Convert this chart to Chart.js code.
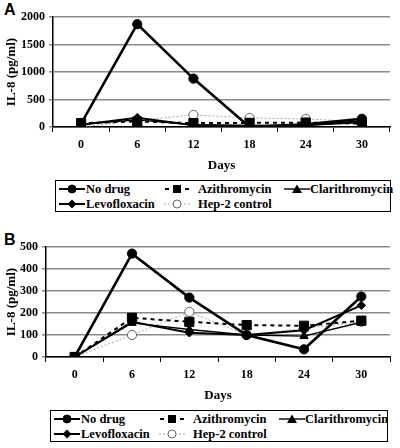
<!DOCTYPE html>
<html><head><meta charset="utf-8">
<script src="https://cdn.jsdelivr.net/npm/chart.js@4.4.1/dist/chart.umd.min.js"></script>
<style>
body{margin:0;background:#fff;width:400px;height:448px;position:relative;overflow:hidden}
.panel{position:absolute;left:4px;font-family:"Liberation Sans",Arial,sans-serif;font-weight:bold;font-size:16px;color:#000}
canvas{position:absolute;left:0}
.legend{position:absolute;border:1px solid #000;box-sizing:border-box;height:32px;background:#fff}
.item{position:absolute;height:14px;font-family:"Liberation Serif","Times New Roman",Times,serif;font-weight:bold;font-size:12.5px;color:#000;white-space:nowrap;line-height:14px}
.item svg{position:absolute;top:1px}
.item span{position:absolute;top:0}
</style></head>
<body>
<div class="panel" style="top:1px">A</div>
<canvas id="ca" width="400" height="175" style="top:0"></canvas>
<div class="legend" id="la" style="left:55px;top:180px;width:336px"></div>
<div class="panel" style="top:231px">B</div>
<canvas id="cb" width="400" height="175" style="top:230px"></canvas>
<div class="legend" id="lb" style="left:50px;top:410px;width:338px"></div>
<script>
// ---- data ----
const days = ['0', '6', '12', '18', '24', '30'];
const seriesNames = ['No drug', 'Azithromycin', 'Clarithromycin', 'Levofloxacin', 'Hep-2 control'];

const aNoDrug = [60, 1870, 880, 0, 50, 150];
const aAzi    = [70, 100, 70, 75, 80, 60];
const aClari  = [50, 130, 40, 30, 30, 80];
const aLevo   = [40, 170, 30, 20, 30, 110];
const aHep    = [0, 120, 220, 165, 145, 100];
const aTicks  = [0, 500, 1000, 1500, 2000];

const bNoDrug = [0, 470, 270, 100, 35, 275];
const bAzi    = [0, 178, 160, 145, 142, 165];
const bClari  = [0, 155, 125, 100, 95, 158];
const bLevo   = [0, 160, 110, 100, 122, 235];
const bHep    = [0, 100, 205, 100, 130, 160];
const bTicks  = [0, 100, 200, 300, 400, 500];

// ---- styles ----
const styles = [
  {color:'#000', width:2.6, dash:[], point:'circle', r:4.6, fill:'#000'},
  {color:'#000', width:2, dash:[4,4], point:'rect', r:6.5, fill:'#000'},
  {color:'#000', width:1.4, dash:[], point:'triangle', r:4.8, fill:'#000'},
  {color:'#000', width:2, dash:[], point:'rectRot', r:4.2, fill:'#000'},
  {color:'#a8a8a8', width:1, dash:[2,2], point:'circle', r:4.6, fill:'#fff', border:'#666'}
];

const serif = "'Liberation Serif', 'Times New Roman', Times, serif";

function makeChart(id, series, ticks, yMax, axisW) {
  const datasets = series.map((d, i) => {
    const s = styles[i];
    return {
      label: seriesNames[i], data: d,
      borderColor: s.color, borderWidth: s.width, borderDash: s.dash,
      pointStyle: s.point, pointRadius: s.r, pointHoverRadius: s.r,
      pointBackgroundColor: s.fill, pointBorderColor: s.border || s.color,
      pointBorderWidth: 1, tension: 0, fill: false
    };
  });
  return new Chart(document.getElementById(id), {
    type: 'line',
    data: {labels: days, datasets},
    options: {
      responsive: false, animation: false,
      layout: {padding: {left: 0, right: 10, top: 17, bottom: 0}},
      plugins: {legend: {display: false}, tooltip: {enabled: false}},
      scales: {
        x: {
          offset: true,
          grid: {offset: true, drawOnChartArea: false, drawTicks: true, tickLength: 5, color: '#000', lineWidth: 1},
          border: {display: true, color: '#000', width: 1.5},
          ticks: {color: '#000', font: {family: serif, size: 12, weight: 'bold'}, padding: 6, maxRotation: 0},
          title: {display: true, text: 'Days', color: '#000', font: {family: serif, size: 13, weight: 'bold'}, padding: {top: 0, bottom: 2}},
          afterFit: s => { s.height = 48; }
        },
        y: {
          min: 0, max: yMax,
          afterBuildTicks: s => { s.ticks = ticks.map(v => ({value: v})); },
          grid: {color: '#8a8a8a', lineWidth: 1.5, drawTicks: true, tickLength: 4},
          border: {display: true, color: '#000', width: 1.5},
          ticks: {color: '#000', font: {family: serif, size: 12, weight: 'bold'}, padding: 4, callback: v => String(v)},
          title: {display: true, text: 'IL-8 (pg/ml)', color: '#000', font: {family: serif, size: 13, weight: 'bold'}, padding: {top: 4, bottom: 0}},
          afterFit: s => { s.width = axisW; }
        }
      }
    }
  });
}

makeChart('ca', [aNoDrug, aAzi, aClari, aLevo, aHep], aTicks, 2000, 53);
makeChart('cb', [bNoDrug, bAzi, bClari, bLevo, bHep], bTicks, 500, 46);

// ---- legend ----
function markerSVG(s) {
  const cx = 13, cy = 6;
  const stroke = s.border || s.color;
  if (s.point === 'circle') return `<circle cx="${cx}" cy="${cy}" r="4" fill="${s.fill}" stroke="${stroke}" stroke-width="1"/>`;
  if (s.point === 'rect') return `<rect x="${cx-4}" y="${cy-4}" width="8" height="8" fill="#000"/>`;
  if (s.point === 'triangle') return `<polygon points="${cx},${cy-4.5} ${cx+5},${cy+4} ${cx-5},${cy+4}" fill="#000"/>`;
  return `<polygon points="${cx},${cy-4.5} ${cx+4.5},${cy} ${cx},${cy+4.5} ${cx-4.5},${cy}" fill="#000"/>`;
}
function buildLegend(id) {
  const el = document.getElementById(id);
  const pos = [[3, 1], [108, 1], [228, 1], [3, 16], [108, 16]];
  const textOff = [27, 34, 26, 27, 34];
  seriesNames.forEach((n, i) => {
    const s = styles[i];
    const dash = s.dash.length ? `stroke-dasharray="${i===1?'4,6':'2,2'}"` : '';
    const lw = i === 4 ? 1 : Math.min(s.width, 2);
    const x1 = i === 1 ? 1 : 0, x2 = i === 1 ? 25 : 26;
    const div = document.createElement('div');
    div.className = 'item';
    div.style.left = pos[i][0] + 'px';
    div.style.top = pos[i][1] + 'px';
    div.innerHTML = `<svg width="27" height="12" style="left:0"><line x1="${x1}" y1="6" x2="${x2}" y2="6" stroke="${s.color}" stroke-width="${lw}" ${dash}/>${markerSVG(s)}</svg><span style="left:${textOff[i]}px">${n}</span>`;
    el.appendChild(div);
  });
}
buildLegend('la');
buildLegend('lb');
</script>
</body></html>
